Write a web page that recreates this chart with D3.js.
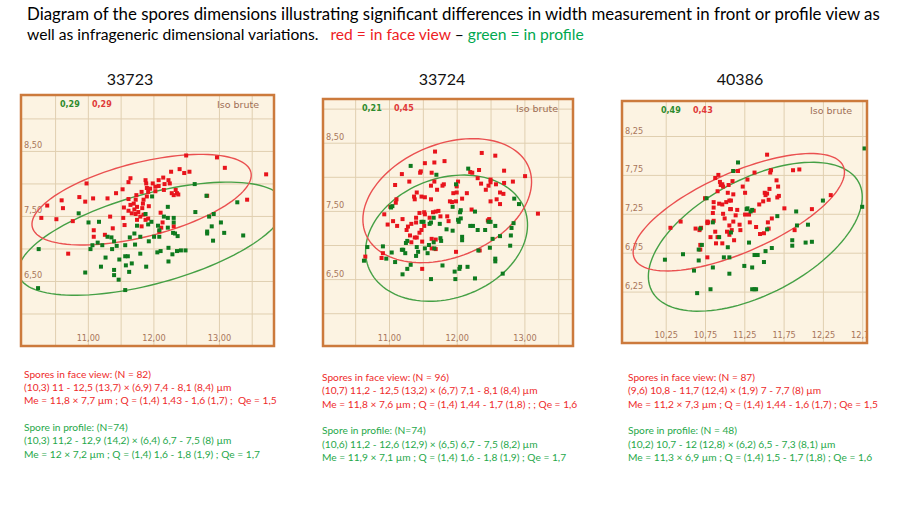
<!DOCTYPE html>
<html><head><meta charset="utf-8">
<script src="https://cdn.jsdelivr.net/npm/d3@7"></script>
<style>body{margin:0;background:#fff}svg{display:block}text{white-space:pre}</style>
</head><body>
<svg id="c" width="900" height="506"></svg>
<script>
// ---------- DATA ----------
const titleLine1 = "Diagram of the spores dimensions illustrating significant differences in width measurement in front or profile view as";
const titleLine2 = ["well as infrageneric dimensional variations.   ", "red = in face view", " – ", "green = in profile"];
const panelNames = ["33723", "33724", "40386"];
const corrGreen = ["0,29", "0,21", "0,49"];
const corrRed = ["0,29", "0,45", "0,43"];
const cornerLabel = "Iso brute";

// axis ticks
const grid12X = [10.5, 11, 11.5, 12, 12.5, 13, 13.5];
const grid12Y = [6, 6.5, 7, 7.5, 8, 8.5, 9];
const lab12X = [11, 12, 13];
const lab12Y = [6.5, 7.5, 8.5];
const grid3X = [10.25, 10.75, 11.25, 11.75, 12.25, 12.75];
const grid3Y = [6.25, 6.75, 7.25, 7.75, 8.25];
const lab3X = [10.25, 10.75, 11.25, 11.75, 12.25, 12.75];
const lab3Y = [6.25, 6.75, 7.25, 7.75, 8.25];

// ellipses: [centre x, centre y, semi-major, semi-minor, angle deg]
const ell1Red = [11.82, 7.75, 1.72, 0.57, 14.3];
const ell1Green = [11.97, 7.15, 2.10, 0.69, 15.5];
const ell2Red = [11.86, 7.65, 1.30, 0.83, 21.8];
const ell2Green = [11.85, 7.10, 1.23, 0.88, 19.5];
const ell3Red = [11.18, 7.27, 1.455, 0.51, 24.1];
const ell3Green = [11.39, 6.955, 1.49, 0.74, 28];

// spores [length, width]
const p1Red = [[12.50,8.43],[12.97,8.40],[13.09,8.24],[13.72,8.14],[12.55,8.18],[12.47,8.16],[12.40,8.22],[12.27,8.18],[12.15,8.09],[12.08,8.05],[11.99,8.00],[11.88,8.05],[11.89,8.00],[11.90,7.93],[11.95,7.92],[12.03,7.88],[12.08,7.96],[12.17,7.99],[12.25,8.00],[12.34,7.90],[12.36,7.85],[12.31,7.82],[12.38,7.83],[12.82,7.81],[13.43,7.75],[11.65,8.08],[11.62,8.02],[11.53,7.91],[11.43,7.85],[11.30,7.77],[11.08,7.77],[10.98,8.00],[10.87,7.79],[10.96,7.72],[10.60,7.74],[10.62,7.62],[10.38,7.66],[10.29,7.47],[10.52,7.45],[10.77,7.42],[10.70,6.92],[11.09,7.28],[11.09,7.18],[11.26,7.21],[11.34,7.49],[11.38,7.31],[11.54,7.47],[11.56,7.36],[11.62,7.76],[11.65,7.67],[11.62,7.58],[11.67,7.54],[11.71,7.60],[11.73,7.53],[11.77,7.56],[11.75,7.64],[11.70,7.69],[11.74,7.82],[11.82,7.87],[11.85,7.75],[11.84,7.69],[11.93,7.65],[11.92,7.46],[11.88,7.44],[11.85,7.52],[11.82,7.34],[11.80,7.49],[11.75,7.44],[12.11,7.55],[12.14,7.40],[12.09,7.26],[12.12,7.32],[12.31,7.34],[12.03,7.95],[12.16,7.90],[12.23,8.05],[11.92,7.87],[11.55,7.63],[11.83,7.62],[11.73,7.75],[11.90,7.80],[12.28,7.85]];
const p1Green = [[12.63,7.99],[11.98,7.80],[12.81,7.81],[13.28,7.71],[12.64,7.56],[12.22,7.64],[12.92,7.53],[12.85,7.49],[12.89,7.34],[12.82,7.26],[12.82,7.23],[12.91,7.12],[13.08,7.24],[13.03,7.40],[13.37,7.20],[10.86,7.54],[11.01,7.40],[11.17,7.41],[11.07,7.05],[11.15,7.09],[11.04,6.99],[10.25,6.99],[10.24,6.39],[10.96,6.63],[11.20,6.72],[11.27,6.86],[11.37,6.99],[11.30,7.18],[11.36,7.17],[11.40,7.11],[11.44,7.04],[11.40,6.67],[11.40,6.59],[11.47,6.52],[11.57,6.36],[11.48,6.83],[11.57,6.88],[11.61,6.88],[11.63,6.64],[11.58,6.74],[11.64,7.17],[11.71,7.23],[11.57,7.05],[11.72,7.06],[11.80,7.18],[11.80,6.92],[11.89,6.72],[11.93,7.11],[12.01,7.18],[11.92,7.37],[11.75,7.35],[11.88,7.53],[12.07,7.35],[12.09,7.28],[12.09,7.18],[12.06,6.94],[12.11,6.96],[12.23,7.01],[12.29,6.91],[12.23,6.80],[12.36,6.96],[12.42,6.97],[12.49,6.97],[12.30,7.24],[12.33,7.23],[12.37,7.19],[12.31,7.40],[12.31,7.47],[12.22,7.47],[12.22,7.32],[12.16,7.49],[11.97,7.41],[11.22,7.05],[11.67,6.77]];

const p2Red = [[11.68,8.37],[12.57,8.31],[12.37,8.35],[11.82,8.23],[11.53,8.20],[11.67,8.21],[11.47,8.08],[11.46,8.06],[11.63,8.06],[11.19,8.04],[11.30,7.93],[11.09,7.88],[11.67,7.93],[11.62,7.87],[11.79,7.87],[11.81,7.89],[11.71,7.81],[11.41,7.77],[11.48,7.71],[11.53,7.70],[11.62,7.67],[11.38,7.67],[11.11,7.67],[11.10,7.62],[11.02,7.56],[10.93,7.45],[10.98,7.30],[11.12,7.28],[11.06,7.35],[11.20,7.38],[11.28,7.27],[11.33,7.31],[11.26,7.22],[11.31,7.14],[11.33,7.04],[11.40,7.33],[11.40,7.40],[11.45,7.47],[11.52,7.48],[11.53,7.45],[11.65,7.48],[11.60,7.40],[11.52,7.28],[11.48,7.22],[11.45,7.18],[11.41,7.11],[11.38,7.11],[11.69,7.49],[11.73,7.50],[11.76,7.42],[11.86,7.42],[11.88,7.35],[11.90,7.64],[11.93,7.63],[11.99,7.64],[11.95,7.76],[12.00,7.77],[12.08,7.68],[12.15,7.76],[12.02,7.93],[12.00,7.86],[12.20,8.07],[12.23,8.06],[12.33,8.10],[12.36,7.90],[12.31,7.98],[12.43,7.81],[12.47,7.87],[12.50,7.96],[12.50,7.92],[12.58,7.89],[12.64,7.77],[12.69,7.75],[12.70,8.09],[12.70,7.91],[12.83,7.93],[13.01,8.01],[13.20,7.46],[12.48,7.38],[12.46,7.36],[12.50,7.64],[12.59,7.67],[12.64,7.60],[12.22,7.52],[11.99,6.90],[12.34,6.92],[11.69,7.08],[11.63,6.95],[11.63,7.09],[11.49,7.05],[11.49,6.65],[10.91,6.88],[10.89,6.81],[10.65,6.83],[11.69,6.94],[11.37,7.71]];
const p2Green = [[11.32,8.16],[11.70,8.03],[12.17,8.12],[11.99,7.89],[11.94,7.56],[12.06,7.51],[12.05,7.48],[12.27,7.49],[11.05,7.57],[11.03,7.55],[11.48,7.34],[11.51,7.34],[11.66,7.40],[11.62,7.33],[11.60,7.31],[11.75,7.31],[11.94,7.21],[12.02,7.37],[12.06,7.39],[12.03,7.34],[12.20,7.28],[12.24,7.28],[12.31,7.22],[12.42,7.22],[12.08,7.12],[12.08,7.07],[12.47,7.34],[12.50,7.34],[12.57,7.28],[12.81,7.25],[12.84,7.32],[12.85,7.68],[12.92,7.60],[12.64,7.13],[12.80,7.14],[12.53,7.09],[12.49,6.96],[12.79,6.99],[12.57,6.80],[12.57,6.76],[12.68,6.58],[12.32,6.92],[11.85,7.23],[11.76,7.10],[11.77,7.06],[11.66,7.04],[11.59,7.00],[11.67,6.95],[11.53,6.95],[11.57,6.88],[11.41,6.97],[11.43,6.90],[11.40,6.84],[11.27,7.06],[11.25,7.03],[11.19,6.93],[11.21,6.93],[11.24,6.88],[11.04,6.89],[10.96,6.80],[10.91,6.98],[11.09,6.75],[11.20,6.57],[11.27,6.65],[11.32,6.71],[11.79,6.70],[11.62,6.50],[12.04,6.65],[12.05,6.68],[11.97,6.61],[11.98,6.50],[12.16,6.68],[12.27,6.51],[10.63,6.77],[10.68,6.97]];

const p3Red = [[11.54,8.01],[11.87,7.81],[11.95,7.82],[11.59,7.81],[11.58,7.78],[11.38,7.78],[11.17,7.80],[11.11,7.80],[10.92,7.75],[10.88,7.71],[10.94,7.66],[10.95,7.62],[11.10,7.67],[10.97,7.63],[11.05,7.62],[10.98,7.60],[11.23,7.60],[11.29,7.69],[11.66,7.68],[11.68,7.60],[11.57,7.57],[11.54,7.51],[11.51,7.52],[11.52,7.49],[10.91,7.54],[11.04,7.52],[11.11,7.50],[11.26,7.52],[10.75,7.45],[10.86,7.40],[10.93,7.38],[10.97,7.37],[11.02,7.40],[11.08,7.42],[11.07,7.31],[11.08,7.31],[11.16,7.30],[11.14,7.23],[11.11,7.15],[11.19,7.11],[11.20,7.04],[11.06,7.10],[11.31,7.24],[11.37,7.29],[11.44,7.37],[11.49,7.41],[11.56,7.43],[11.60,7.19],[11.55,7.14],[11.56,7.06],[11.50,7.00],[11.45,6.99],[11.40,7.08],[11.67,7.46],[11.69,7.48],[11.76,7.32],[11.89,7.04],[12.11,7.31],[12.35,7.49],[10.86,7.33],[10.85,7.26],[10.79,7.14],[10.86,7.16],[10.98,7.25],[11.00,7.19],[10.88,7.02],[10.91,6.95],[10.82,6.95],[10.69,6.79],[10.69,6.85],[10.70,7.07],[10.78,7.15],[10.78,7.13],[10.89,6.87],[10.97,6.87],[11.06,6.98],[11.09,7.04],[11.12,6.91],[10.44,7.15],[10.31,7.07],[10.63,7.06],[10.68,7.04],[10.78,6.69],[11.03,7.02],[11.06,7.42],[11.26,7.24],[11.32,7.14]];
const p3Green = [[11.17,7.91],[11.11,7.80],[12.78,8.09],[12.75,7.34],[10.77,7.45],[11.28,7.31],[11.29,7.32],[11.35,7.30],[11.33,7.28],[11.67,7.22],[11.91,7.28],[11.92,7.10],[12.06,7.11],[12.11,6.89],[12.03,6.88],[11.86,6.91],[11.86,6.84],[12.25,7.42],[11.31,6.88],[10.85,7.14],[10.69,7.06],[10.93,6.95],[10.71,6.85],[10.67,6.79],[10.24,6.66],[10.47,6.73],[10.67,6.65],[10.61,6.52],[10.65,6.23],[10.82,6.28],[10.85,6.56],[10.99,6.69],[11.06,6.69],[11.06,6.48],[11.04,6.82],[11.08,7.01],[11.25,6.58],[11.35,6.56],[11.38,6.72],[11.42,6.72],[11.50,6.63],[11.52,6.77],[11.60,6.81],[11.35,6.28],[11.38,6.28],[11.40,6.28],[11.54,7.05]];

// text blocks
const face1 = ["Spores in face view: (N = 82)", "(10,3) 11 - 12,5 (13,7) × (6,9) 7,4 - 8,1 (8,4) µm", "Me = 11,8 × 7,7 µm ; Q = (1,4) 1,43 - 1,6 (1,7) ;  Qe = 1,5"];
const prof1 = ["Spore in profile: (N=74)", "(10,3) 11,2 - 12,9 (14,2) × (6,4) 6,7 - 7,5 (8) µm", "Me = 12 × 7,2 µm ; Q = (1,4) 1,6 - 1,8 (1,9) ; Qe = 1,7"];
const face2 = ["Spores in face view: (N = 96)", "(10,7) 11,2 - 12,5 (13,2) × (6,7) 7,1 - 8,1 (8,4) µm", "Me = 11,8 × 7,6 µm ; Q = (1,4) 1,44 - 1,7 (1,8) ; ; Qe = 1,6"];
const prof2 = ["Spore in profile: (N=74)", "(10,6) 11,2 - 12,6 (12,9) × (6,5) 6,7 - 7,5 (8,2) µm", "Me = 11,9 × 7,1 µm ; Q = (1,4) 1,6 - 1,8 (1,9) ; Qe = 1,7"];
const face3 = ["Spores in face view: (N = 87)", "(9,6) 10,8 - 11,7 (12,4) × (1,9) 7 - 7,7 (8) µm", "Me = 11,2 × 7,3 µm ; Q = (1,4) 1,44 - 1,6 (1,7) ; Qe = 1,5"];
const prof3 = ["Spore in profile: (N = 48)", "(10,2) 10,7 - 12 (12,8) × (6,2) 6,5 - 7,3 (8,1) µm", "Me = 11,3 × 6,9 µm ; Q = (1,4) 1,5 - 1,7 (1,8) ; Qe = 1,6"];

// ---------- STYLE / LAYOUT ----------
const RED = "#e8141c", GREEN = "#0e7a1e";
const TXT_RED = "#ee2a2a", TXT_GREEN = "#1fa84a";
const BG = "#fcf3e2", GRID = "#e0cfb0", BORDER = "#cc7a3c", AXTXT = "#a8765a";
const FONT = "Lato";
const svg = d3.select("#c");
const defs = svg.append("defs");
const fmt = v => d3.format(".2f")(v).replace(".", ",");

function measure(text, size) {
  const t = svg.append("text").attr("font-family", FONT).attr("font-size", size).text(text);
  const w = t.node().getComputedTextLength();
  t.remove();
  return w;
}
const titleSize = 16 * 853 / measure(titleLine1, 16);
const title2Size = 16 * 557 / measure(titleLine2.join(""), 16);
const blockSize = 12 * 253 / measure(face1[2], 12);

const panels = [
  {box:[21,95,274,346], xDom:[9.98,13.84], yDom:[5.5,9.36], xGrid:grid12X, yGrid:grid12Y, xLab:lab12X, yLab:lab12Y,
   red:p1Red, green:p1Green, eR:ell1Red, eG:ell1Green, cx:130, face:face1, prof:prof1, tx:24, ty:377.7},
  {box:[323,99,573,346], xDom:[10.025,13.718], yDom:[5.519,9.141], xGrid:grid12X, yGrid:grid12Y, xLab:lab12X, yLab:lab12Y,
   red:p2Red, green:p2Green, eR:ell2Red, eG:ell2Green, cx:442, face:face2, prof:prof2, tx:322, ty:381},
  {box:[622,101,867,343], xDom:[9.694,12.811], yDom:[5.589,8.70], xGrid:grid3X, yGrid:grid3Y, xLab:lab3X, yLab:lab3Y,
   red:p3Red, green:p3Green, eR:ell3Red, eG:ell3Green, cx:740, face:face3, prof:prof3, tx:628, ty:381}
];

function ellipsePts(e) {
  const [cx, cy, a, b, deg] = e, t = deg * Math.PI / 180;
  return d3.range(0, 361, 3).map(k => {
    const u = k * Math.PI / 180;
    return [cx + a*Math.cos(t)*Math.cos(u) - b*Math.sin(t)*Math.sin(u),
            cy + a*Math.sin(t)*Math.cos(u) + b*Math.cos(t)*Math.sin(u)];
  });
}

panels.forEach((p, i) => {
  const [x0, y0, x1, y1] = p.box;
  const x = d3.scaleLinear().domain(p.xDom).range([x0, x1]);
  const y = d3.scaleLinear().domain(p.yDom).range([y1, y0]);
  const id = "clip" + i;
  defs.append("clipPath").attr("id", id).append("rect")
    .attr("x", x0 + 1).attr("y", y0 + 1).attr("width", x1 - x0 - 2).attr("height", y1 - y0 - 2);

  svg.append("rect").attr("x", x0).attr("y", y0).attr("width", x1 - x0).attr("height", y1 - y0).attr("fill", BG);
  const g = svg.append("g").attr("clip-path", `url(#${id})`);

  // grid
  g.append("g").attr("transform", `translate(0,${y1})`)
    .call(d3.axisBottom(x).tickValues(p.xGrid).tickSize(-(y1 - y0)).tickFormat(""))
    .call(s => { s.select(".domain").remove(); s.selectAll("line").attr("stroke", GRID).attr("stroke-width", 1); });
  g.append("g").attr("transform", `translate(${x0},0)`)
    .call(d3.axisLeft(y).tickValues(p.yGrid).tickSize(-(x1 - x0)).tickFormat(""))
    .call(s => { s.select(".domain").remove(); s.selectAll("line").attr("stroke", GRID).attr("stroke-width", 1); });

  // tick labels
  g.append("g").attr("transform", `translate(0,${y1 - 5})`)
    .call(d3.axisBottom(x).tickValues(p.xLab).tickSize(0).tickPadding(0).tickFormat(fmt))
    .call(s => {
      s.select(".domain").remove();
      s.selectAll("text").attr("y", 0).attr("dy", 0).attr("fill", AXTXT)
        .attr("font-family", "DejaVu Sans").attr("font-size", 8.2);
    });
  g.append("g").attr("transform", `translate(${x0},0)`)
    .call(d3.axisLeft(y).tickValues(p.yLab).tickSize(0).tickPadding(0).tickFormat(fmt))
    .call(s => {
      s.select(".domain").remove();
      s.selectAll("text").attr("x", 3).attr("dy", -3).attr("text-anchor", "start").attr("fill", AXTXT)
        .attr("font-family", "DejaVu Sans").attr("font-size", 8.2);
    });

  // ellipses
  const line = d3.line().x(d => x(d[0])).y(d => y(d[1]));
  g.append("path").attr("d", line(ellipsePts(p.eG))).attr("fill", "none").attr("stroke", "#45a045").attr("stroke-width", 1.4);
  g.append("path").attr("d", line(ellipsePts(p.eR))).attr("fill", "none").attr("stroke", "#ea5050").attr("stroke-width", 1.4);

  // points
  const s = 4;
  g.append("g").selectAll("rect").data(p.red).join("rect")
    .attr("x", d => x(d[0]) - s/2).attr("y", d => y(d[1]) - s/2).attr("width", s).attr("height", s).attr("fill", RED);
  g.append("g").selectAll("rect").data(p.green).join("rect")
    .attr("x", d => x(d[0]) - s/2).attr("y", d => y(d[1]) - s/2).attr("width", s).attr("height", s).attr("fill", GREEN);

  // header texts inside plot
  g.append("text").attr("x", x0 + 39).attr("y", y0 + 11.5).text(corrGreen[i])
    .attr("fill", "#2e8b2e").attr("font-family", "DejaVu Sans").attr("font-size", 8).attr("font-weight", "bold");
  g.append("text").attr("x", x0 + 71).attr("y", y0 + 11.5).text(corrRed[i])
    .attr("fill", "#e03a3a").attr("font-family", "DejaVu Sans").attr("font-size", 8).attr("font-weight", "bold");
  g.append("text").attr("x", x1 - 15).attr("y", y0 + 13).attr("text-anchor", "end").text(cornerLabel)
    .attr("fill", "#9e6e55").attr("font-family", "DejaVu Sans").attr("font-size", 9.5);

  // border
  svg.append("rect").attr("x", x0).attr("y", y0).attr("width", x1 - x0).attr("height", y1 - y0)
    .attr("fill", "none").attr("stroke", BORDER).attr("stroke-width", 2.5);

  // panel title
  svg.append("text").attr("x", p.cx).attr("y", 85).attr("text-anchor", "middle").text(panelNames[i])
    .attr("font-family", FONT).attr("font-size", 16).attr("fill", "#111");

  // description blocks
  const offs = [0, 13.3, 26.6];
  p.face.forEach((t, k) => {
    svg.append("text").attr("x", p.tx).attr("y", p.ty + offs[k]).text(t)
      .attr("font-family", FONT).attr("font-size", blockSize).attr("fill", TXT_RED);
  });
  p.prof.forEach((t, k) => {
    svg.append("text").attr("x", p.tx).attr("y", p.ty + 53.3 + offs[k]).text(t)
      .attr("font-family", FONT).attr("font-size", blockSize).attr("fill", TXT_GREEN);
  });
});

// title
svg.append("text").attr("x", 27).attr("y", 20).text(titleLine1)
  .attr("font-family", FONT).attr("font-size", titleSize).attr("fill", "#000");
const t2 = svg.append("text").attr("x", 27).attr("y", 40)
  .attr("font-family", FONT).attr("font-size", title2Size);
const t2Colors = ["#000", "#ee1c24", "#000", "#00a84f"];
titleLine2.forEach((s, k) => t2.append("tspan").attr("fill", t2Colors[k]).text(s));
</script>
</body></html>
